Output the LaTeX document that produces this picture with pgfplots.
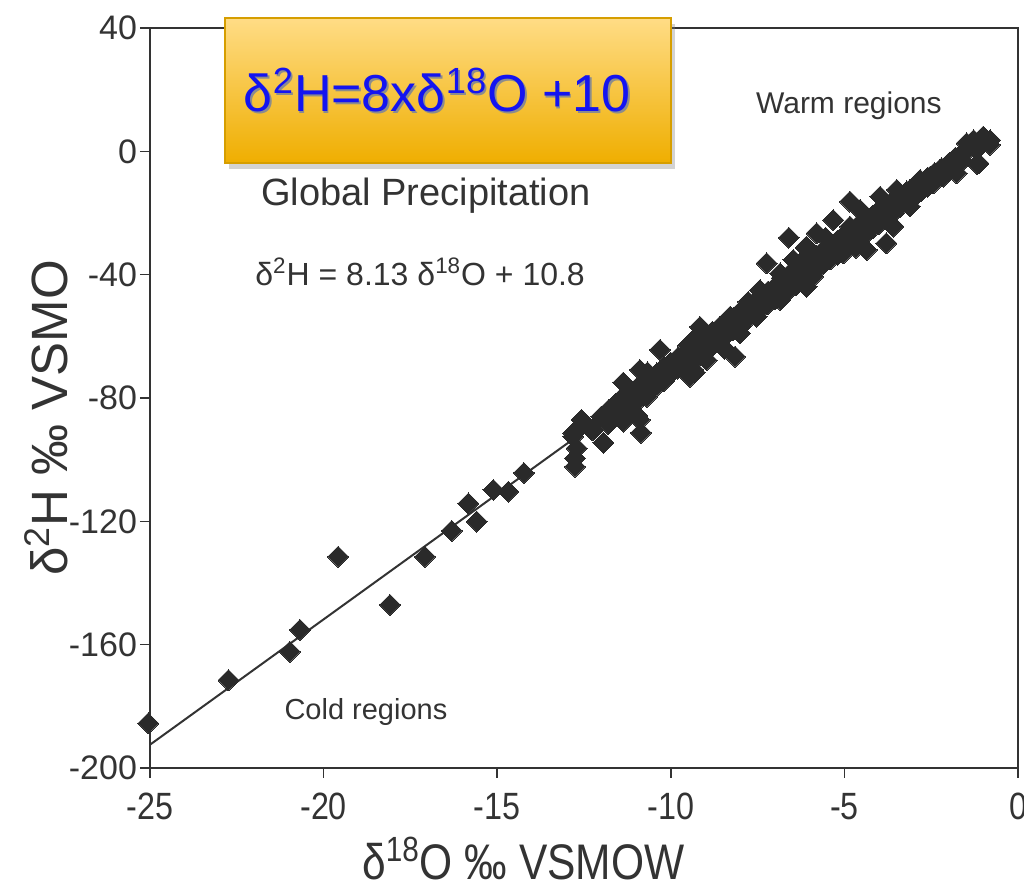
\documentclass[border=0pt]{standalone}
\usepackage{pgfplots}
\pgfplotsset{compat=1.18}
\usepackage{fontspec}
\setmainfont{Liberation Sans}
\newfontfamily\narrow[FakeStretch=0.85]{Liberation Sans}
\usetikzlibrary{shadows}
\definecolor{ink}{HTML}{333333}
\definecolor{mk}{HTML}{2A2A2A}
\definecolor{boxtop}{HTML}{FFDC85}
\definecolor{boxbot}{HTML}{EFAE00}
\definecolor{boxedge}{HTML}{D69E00}
\definecolor{eqblue}{HTML}{1414F0}
\pgfplotstableread{
x y
-25.05 -185.5
-22.74 -171.5
-20.97 -162.3
-20.68 -155.2
-19.58 -131.5
-18.09 -147.1
-17.08 -131.5
-16.31 -123.1
-15.83 -114.2
-15.59 -120.1
-15.11 -109.8
-14.68 -110.4
-14.23 -104.3
-12.81 -92.5
-12.57 -88.8
-12.28 -90.4
-12.76 -99.6
-12.76 -102.3
-12.71 -96.3
-11.94 -94.5
-12.57 -87.1
-12.81 -91.4
-12.23 -90.4
-11.75 -87.1
-11.66 -86.0
-11.46 -80.6
-11.37 -75.0
-11.37 -87.7
-11.27 -83.9
-10.89 -70.9
-10.69 -79.6
-10.89 -87.1
-10.86 -91.3
-10.96 -78.2
-10.96 -85.8
-10.31 -64.4
-10.31 -74.2
-10.02 -68.7
-10.09 -72.7
-10.67 -71.7
-9.70 -69.4
-9.31 -71.7
-9.54 -68.7
-9.35 -61.2
-9.16 -56.9
-9.45 -73.1
-9.06 -65.5
-9.51 -63.0
-9.12 -57.5
-8.93 -63.0
-9.45 -64.4
-8.78 -62.3
-8.15 -66.6
-8.45 -64.0
-8.29 -53.6
-8.15 -57.5
-7.81 -50.4
-7.43 -45.0
-7.24 -36.3
-6.85 -39.6
-6.85 -48.2
-6.37 -42.8
-6.09 -43.9
-5.90 -39.6
-5.70 -36.3
-6.47 -35.2
-7.53 -53.6
-8.58 -60.1
-8.97 -67.7
-9.35 -70.9
-8.01 -59.0
-7.38 -48.8
-7.77 -48.8
-7.57 -53.1
-6.80 -41.1
-6.12 -42.2
-6.60 -28.0
-6.12 -31.3
-5.73 -34.6
-5.54 -28.0
-5.25 -32.4
-4.84 -16.3
-5.32 -22.3
-5.80 -26.6
-6.09 -30.9
-6.18 -35.2
-5.90 -40.6
-5.51 -34.1
-5.03 -33.1
-4.45 -25.5
-4.36 -32.0
-3.79 -29.8
-3.97 -20.1
-3.59 -24.4
-3.49 -12.5
-3.97 -14.7
-3.11 -12.5
-2.73 -10.4
-3.11 -17.9
-4.55 -19.0
-4.84 -24.4
-4.67 -31.3
-4.47 -27.0
-4.09 -21.5
-3.31 -16.0
-2.92 -13.3
-2.53 -10.6
-2.15 -7.35
-1.67 -2.4
-1.18 -4.1
-1.28 3.6
-0.80 3.6
-1.00 4.8
-1.48 2.6
-0.81 2.1
-1.14 -3.9
-1.96 -3.9
-2.25 -6.0
-2.53 -8.2
-2.82 -9.3
-3.21 -14.7
-2.15 -8.2
-1.77 -7.1
-2.44 -10.4
-12.0 -86.0
-11.8 -84.0
-11.8 -88.5
-11.6 -82.0
-11.2 -79.5
-11.2 -82.5
-11.0 -77.0
-11.0 -81.5
-10.8 -75.0
-10.8 -79.0
-10.6 -73.5
-10.6 -77.5
-10.4 -72.0
-10.4 -76.0
-10.2 -70.0
-10.2 -74.5
-10.0 -68.5
-10.0 -72.0
-9.8 -67.0
-9.8 -70.5
-9.6 -65.5
-9.6 -69.5
-9.4 -63.5
-9.4 -67.0
-9.2 -62.0
-9.2 -66.5
-9.0 -60.0
-9.0 -64.5
-8.8 -58.5
-8.8 -63.0
-8.6 -57.0
-8.6 -61.5
-8.4 -55.5
-8.4 -59.5
-8.2 -54.0
-8.2 -58.0
-8.0 -52.0
-8.0 -56.5
-7.8 -50.5
-7.8 -54.5
-7.6 -49.0
-7.6 -52.5
-7.4 -47.0
-7.4 -51.0
-7.2 -45.5
-7.2 -49.5
-7.0 -44.0
-7.0 -48.0
-6.8 -42.0
-6.8 -46.5
-6.6 -40.0
-6.6 -45.0
-6.4 -39.0
-6.4 -43.5
-6.2 -37.0
-6.2 -41.0
-6.0 -35.5
-6.0 -39.5
-5.8 -34.0
-5.8 -38.0
-5.6 -32.0
-5.6 -36.5
-5.4 -30.5
-5.4 -35.0
-5.2 -29.0
-5.2 -33.5
-5.0 -27.0
-5.0 -31.5
-4.8 -26.0
-4.8 -30.0
-4.6 -24.0
-4.6 -28.5
-4.4 -22.5
-4.4 -27.0
-4.2 -21.0
-4.2 -25.0
-4.0 -19.0
-4.0 -23.5
-3.8 -18.0
-3.8 -22.0
-3.6 -16.0
-3.6 -20.0
-3.4 -14.5
-3.4 -18.0
-3.2 -13.0
-3.2 -16.5
-3.0 -11.5
-3.0 -15.0
-2.8 -10.0
-2.8 -13.0
-2.6 -8.5
-2.6 -11.5
-2.4 -7.0
-2.4 -9.5
-2.2 -5.5
-2.0 -4.0
-2.0 -6.5
-1.8 -2.0
-1.6 -0.5
-1.6 -3.0
-1.4 1.0
-1.2 0.5
}\datatable
\begin{document}
\begin{tikzpicture}
\begin{axis}[
  at={(75pt,62pt)}, anchor=south west,
  scale only axis, width=434pt, height=370pt,
  xmin=-25, xmax=0, ymin=-200, ymax=40,
  xtick={-25,-20,-15,-10,-5,0},
  ytick={-200,-160,-120,-80,-40,0,40},
  tick pos=left,
  tick align=outside, major tick length=5pt,
  tick style={ink, line width=0.8pt},
  axis line style={ink, line width=1.2pt},
  /pgf/number format/assume math mode=true,
  xticklabel style={font=\narrow\fontsize{19}{19}\selectfont, text=ink, yshift=-4pt},
  yticklabel style={font=\fontsize{17}{17}\selectfont, text=ink, xshift=2pt},
  xlabel={\narrow δ\textsuperscript{18}O ‰ VSMOW},
  xlabel style={at={(axis description cs:0.43,-0.122)}, anchor=center, font=\fontsize{25}{25}\selectfont, text=ink},
  ylabel={δ\textsuperscript{2}H ‰ VSMO},
  ylabel style={at={(axis description cs:-0.12,0.473)}, anchor=center, rotate=0, font=\fontsize{25.5}{25.5}\selectfont, text=ink},
  clip=false,
]
\addplot[ink, line width=1pt] coordinates {(-25,-192.45) (-1,2.67)};
\addplot[only marks, mark=square*, mark size=3.7pt, mark options={rotate=45, fill=mk, draw=mk, line width=0pt}] table[x=x,y=y] {\datatable};
\node[font=\fontsize{19}{19}\selectfont, text=ink] at (axis cs:-17.05,-14.5) {Global Precipitation};
\node[font=\fontsize{16}{16}\selectfont, text=ink] at (axis cs:-17.22,-39.1) {δ\textsuperscript{2}H = 8.13 δ\textsuperscript{18}O + 10.8};
\node[font=\fontsize{15}{15}\selectfont, text=ink] at (axis cs:-4.87,14.7) {Warm regions};
\node[font=\fontsize{14.5}{14.5}\selectfont, text=ink] at (axis cs:-18.78,-181.8) {Cold regions};
\coordinate (b1) at (axis cs:-22.83,43.1);
\coordinate (b2) at (axis cs:-9.99,-3.8);
\coordinate (bc) at (axis cs:-16.73,19.9);
\end{axis}
\draw[boxedge, line width=1pt, top color=boxtop, bottom color=boxbot,
  drop shadow={opacity=0.35, shadow xshift=2pt, shadow yshift=-3pt}] (b1) rectangle (b2);
\node[font=\fontsize{26}{26}\selectfont, text=black!45, xshift=0.9pt, yshift=-0.9pt] at (bc) {δ\textsuperscript{2}H=8xδ\textsuperscript{18}O +10};
\node[font=\fontsize{26}{26}\selectfont, text=eqblue] at (bc) {δ\textsuperscript{2}H=8xδ\textsuperscript{18}O +10};
\pgfresetboundingbox
\path[use as bounding box] (0,0) rectangle (512pt,446pt);
\end{tikzpicture}
\end{document}
